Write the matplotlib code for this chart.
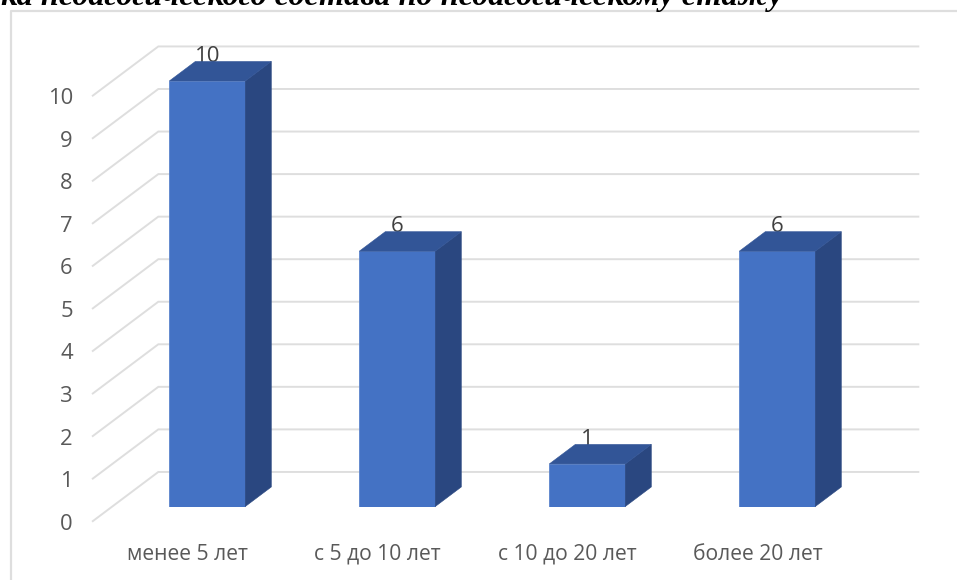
import matplotlib
matplotlib.use('Agg')
import matplotlib.pyplot as plt

categories = ['менее 5 лет', 'с 5 до 10 лет', 'с 10 до 20 лет', 'более 20 лет']
values = [10, 6, 1, 6]
y_ticks = list(range(0, 11))
title = 'ка педагогического состава по педагогическому стажу'

W, H = 957, 580
BAR_W = 0.4
# depth step in data units: one bar depth = 26px right, 19.5px up
DX = 26 / 190
DY = 19.5 / 42.5
D_FRONT, D_BACK = -0.75, 1.77

FRONT = '#4472C4'
SIDE = '#2A4780'
TOP = '#325597'
GRID = '#DEDEDE'
TEXT = '#595959'

plt.rcParams['font.family'] = ['Open Sans', 'DejaVu Sans']

fig = plt.figure(figsize=(W / 100, H / 100), dpi=100)
ax = fig.add_axes([112.3 / W, 1 - 506.5 / H, 760 / W, 425.5 / H])
ax.set_xlim(-0.5, 3.5)
ax.set_ylim(0, 10)
ax.axis('off')


def proj(x, y, d):
    return x + d * DX, y + d * DY


# outer frame of the pasted chart
fig.add_artist(plt.Line2D([1, 10.5 / W, 10.5 / W], [1 - 11 / H, 1 - 11 / H, 0],
                          color=GRID, lw=1.6, transform=fig.transFigure))

# back wall and the side wall
for v in y_ticks:
    x0, y0 = proj(-0.5, v, D_FRONT)
    x1, y1 = proj(-0.5, v, D_BACK)
    x2, y2 = proj(3.5, v, D_BACK)
    ax.plot([x0, x1, x2], [y0, y1, y2], color=GRID, lw=1.4, clip_on=False, zorder=1,
            solid_joinstyle='miter')
    ax.annotate(str(v), (x0, y0), xytext=(-20, -3), textcoords='offset pixels',
                ha='right', va='center', fontsize=15.8, color=TEXT, annotation_clip=False)

# bars
for i, v in enumerate(values):
    l, r = i - BAR_W / 2, i + BAR_W / 2
    ax.bar(i, v, BAR_W, color=FRONT, edgecolor='#5B84CC', lw=0.6, zorder=3)
    side = [proj(r, 0, 0), proj(r, 0, 1), proj(r, v, 1), proj(r, v, 0)]
    top = [proj(l, v, 0), proj(l, v, 1), proj(r, v, 1), proj(r, v, 0)]
    ax.fill(*zip(*side), color=SIDE, lw=0.4, clip_on=False, zorder=3)
    ax.fill(*zip(*top), color=TOP, lw=0.4, clip_on=False, zorder=3)
    ax.annotate(str(v), (i, v + DY), xytext=(0, 5), textcoords='offset pixels',
                ha='center', va='center', fontsize=16, color='#404040',
                annotation_clip=False, zorder=2)
    ax.annotate(categories[i], proj(i, 0, D_FRONT), xytext=(0, -33), textcoords='offset pixels',
                ha='center', va='center', fontsize=15.2, color=TEXT, annotation_clip=False)

# caption line of the document, cut by the top edge
fig.text(783 / W, 1 - 4.5 / H, title, ha='right', va='baseline', fontsize=23.2,
         family='Liberation Serif', weight='bold', style='italic', color='black')

fig.savefig('out.png', dpi=100)
